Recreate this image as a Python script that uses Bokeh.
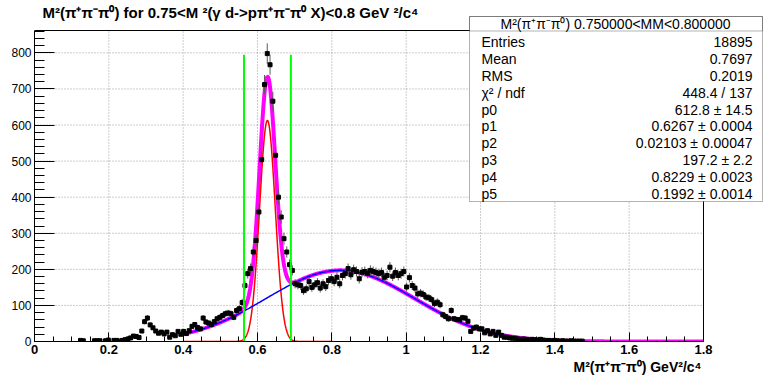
import numpy as np
from bokeh.plotting import figure
from bokeh.models import Range1d, FixedTicker, Label, BoxAnnotation, ColumnDataSource, Title
from bokeh.embed import file_html
from bokeh.resources import INLINE

# ---------------- data ----------------
bin_width = 0.0075
first_bin = 16
counts = [3, 2, 0, 0, 0, 2, 2, 2, 0, 2, 4, 0, 3, 3, 1, 3, 5, 7, 10, 15,
          14, 11, 29, 55, 65, 46, 38, 29, 23, 26, 21, 26, 12, 19, 16, 28, 20, 28, 22, 30,
          42, 47, 39, 35, 65, 54, 51, 47, 55, 63, 67, 72, 77, 79, 77, 67, 86, 91, 108, 155,
          188, 202, 248, 280, 359, 504, 712, 798, 767, 666, 516, 400, 345, 285, 248, 213, 197, 160, 157, 155,
          141, 146, 166, 150, 157, 163, 148, 160, 152, 169, 174, 166, 178, 160, 183, 188, 202, 185, 199, 194,
          174, 192, 194, 189, 197, 194, 191, 188, 191, 178, 183, 206, 181, 191, 183, 188, 194, 151, 177, 155,
          148, 132, 134, 130, 123, 121, 116, 105, 109, 102, 74, 69, 63, 86, 63, 61, 60, 66, 65, 56,
          28, 37, 40, 35, 35, 24, 30, 21, 28, 17, 26, 17, 12, 12, 10, 9, 9, 7, 6, 7,
          6, 4, 6, 5, 4, 6, 4, 3, 3, 2, 3, 2, 1, 2, 1, 1, 2, 1, 1, 1, 1]

# fit parameters p0..p5 (gaussian peak + gaussian background)
fit_p = [612.8, 0.6267, 0.02103, 197.2, 0.8229, 0.1992]
gauss_range = [0.4, 0.8]
bg_range = [0.4, 1.47]
total_range = [0.4, 1.8]
cut_nsigma = 3
cut_top = 795

x_min, x_max = 0.0, 1.8
y_min, y_max = 0.0, 862.0
x_ticks = [0, 0.2, 0.4, 0.6, 0.8, 1.0, 1.2, 1.4, 1.6, 1.8]
x_tick_labels = ["0", "0.2", "0.4", "0.6", "0.8", "1", "1.2", "1.4", "1.6", "1.8"]
y_ticks = [0, 100, 200, 300, 400, 500, 600, 700, 800]

title_text = "M²(π⁺π⁻π⁰) for 0.75<M ²(γ d->pπ⁺π⁻π⁰ X)<0.8 GeV ²/c⁴"
xaxis_title = "M²(π⁺π⁻π⁰) GeV²/c⁴"
stats_title = "M²(π⁺π⁻π⁰) 0.750000<MM<0.800000"
stats_names = ["Entries", "Mean", "RMS", "χ² / ndf", "p0", "p1", "p2", "p3", "p4", "p5"]
stats_values = ["18895", "0.7697", "0.2019", "448.4 / 137", "612.8 ± 14.5", "0.6267 ± 0.0004",
                "0.02103 ± 0.00047", "197.2 ± 2.2", "0.8229 ± 0.0023", "0.1992 ± 0.0014"]

# ---------------- layout (page pixels) ----------------
FONT = "Liberation Sans"
W, H = 763, 375
AX_L, AX_R, AX_T, AX_B = 34, 703, 30, 341   # histogram frame in page pixels
BL, BB = AX_L, H - AX_B
x_end = x_min + (x_max - x_min) * (W - AX_L) / (AX_R - AX_L)
y_end = y_min + (y_max - y_min) * AX_B / (AX_B - AX_T)

p = figure(width=W, height=H, x_range=Range1d(x_min, x_end), y_range=Range1d(y_min, y_end),
           output_backend="svg", toolbar_location=None,
           min_border_left=BL, min_border_right=0, min_border_top=0, min_border_bottom=BB)
p.background_fill_color = "white"
p.border_fill_color = "white"
p.outline_line_color = None
p.grid.visible = False

xminor = [round(0.05 * i, 4) for i in range(37)]
yminor = list(range(0, 861, 20))
p.xaxis.ticker = FixedTicker(ticks=x_ticks, minor_ticks=xminor)
p.yaxis.ticker = FixedTicker(ticks=y_ticks, minor_ticks=yminor)
p.xaxis.major_label_overrides = {t: l for t, l in zip(x_ticks, x_tick_labels)}
p.xaxis.bounds = (x_min, x_max)
p.yaxis.bounds = (y_min, y_max)
for ax in (p.xaxis[0], p.yaxis[0]):
    ax.axis_line_color = "black"
    ax.axis_line_width = 1
    ax.major_tick_out = 0
    ax.minor_tick_out = 0
    ax.major_tick_line_color = "black"
    ax.minor_tick_line_color = "black"
    ax.major_label_text_font = FONT
    ax.major_label_text_color = "black"
p.xaxis.major_tick_in = 9
p.xaxis.minor_tick_in = 5
p.yaxis.major_tick_in = 20
p.yaxis.minor_tick_in = 10
p.xaxis.major_label_text_font_size = "13px"
p.xaxis.major_label_text_font_style = "bold"
p.xaxis.major_label_standoff = 3
p.yaxis.major_label_text_font_size = "12px"
p.yaxis.major_label_standoff = 3

# dotted grid and frame top/right edges
p.segment(x0=x_ticks, y0=[y_min] * len(x_ticks), x1=x_ticks, y1=[y_max] * len(x_ticks),
          line_color="#9a9a9a", line_dash="1 2", line_width=1)
p.segment(x0=[x_min] * len(y_ticks), y0=y_ticks, x1=[x_max] * len(y_ticks), y1=y_ticks,
          line_color="#9a9a9a", line_dash="1 2", line_width=1)
p.segment(x0=[x_min, x_max], y0=[y_max, y_min], x1=[x_max, x_max], y1=[y_max, y_max],
          line_color="black", line_width=1)

# ---------------- fit curves ----------------
def gauss(x, a, m, s):
    return a * np.exp(-0.5 * ((x - m) / s) ** 2)

xt = np.linspace(total_range[0], total_range[1], 700)
p.line(xt, gauss(xt, *fit_p[:3]) + gauss(xt, *fit_p[3:]), line_color="#ff00ff", line_width=4)
xg = np.linspace(gauss_range[0], gauss_range[1], 400)
p.line(xg, gauss(xg, *fit_p[:3]), line_color="#ff0000", line_width=1.5)
xb = np.linspace(bg_range[0], bg_range[1], 400)
p.line(xb, gauss(xb, *fit_p[3:]), line_color="#0000ff", line_width=1.5)

# ---------------- histogram points ----------------
cnt = np.array(counts, dtype=float)
xc = (np.arange(len(cnt)) + first_bin + 0.5) * bin_width
mask = cnt > 0
err = np.sqrt(cnt)
src = ColumnDataSource(dict(x=xc[mask], y=cnt[mask], lo=(cnt - err)[mask], hi=(cnt + err)[mask]))
p.segment(x0="x", y0="lo", x1="x", y1="hi", source=src, line_color="#5a5a5a", line_width=1)
p.scatter(x="x", y="y", source=src, marker="square", size=4, fill_color="black", line_color="black")

# ---------------- cut lines ----------------
cuts = [fit_p[1] - cut_nsigma * fit_p[2], fit_p[1] + cut_nsigma * fit_p[2]]
p.segment(x0=cuts, y0=[0, 0], x1=cuts, y1=[cut_top, cut_top], line_color="#00ff00", line_width=2)

# ---------------- texts & stats box (screen units relative to frame) ----------------
FR_L, FR_B = AX_L, H - BB
def sx(rx):
    return rx - FR_L
def sy(ry):
    return FR_B - ry

p.add_layout(Label(x=sx(42), y=sy(12), x_units="screen", y_units="screen", text=title_text,
                   text_font=FONT, text_font_size="15px", text_font_style="bold",
                   text_baseline="middle", text_align="left", text_color="black"))

p.add_layout(Title(text=xaxis_title, align="right", offset=W - 701, standoff=0,
                   text_font=FONT, text_font_size="14px", text_font_style="bold",
                   text_color="black"), "below")

p.add_layout(BoxAnnotation(left=sx(469), right=sx(762), top=sy(16), bottom=sy(201),
                           left_units="screen", right_units="screen", top_units="screen",
                           bottom_units="screen", fill_color="white", fill_alpha=1.0,
                           line_color="black", line_width=1))
p.add_layout(BoxAnnotation(left=sx(469), right=sx(762), top=sy(16), bottom=sy(30.5),
                           left_units="screen", right_units="screen", top_units="screen",
                           bottom_units="screen", fill_alpha=0.0,
                           line_color="black", line_width=1))
p.add_layout(Label(x=sx(615), y=sy(23.5), x_units="screen", y_units="screen", text=stats_title,
                   text_font=FONT, text_font_size="14px", text_baseline="middle",
                   text_align="center", text_color="black"))
row_y0, row_dy = 41.8, 16.8
for i, (n, v) in enumerate(zip(stats_names, stats_values)):
    ry = row_y0 + i * row_dy
    p.add_layout(Label(x=sx(481), y=sy(ry), x_units="screen", y_units="screen", text=n,
                       text_font=FONT, text_font_size="14px", text_baseline="middle",
                       text_align="left", text_color="black"))
    p.add_layout(Label(x=sx(752), y=sy(ry), x_units="screen", y_units="screen", text=v,
                       text_font=FONT, text_font_size="14px", text_baseline="middle",
                       text_align="right", text_color="black"))

open("out.html", "w").write(file_html(p, INLINE))
